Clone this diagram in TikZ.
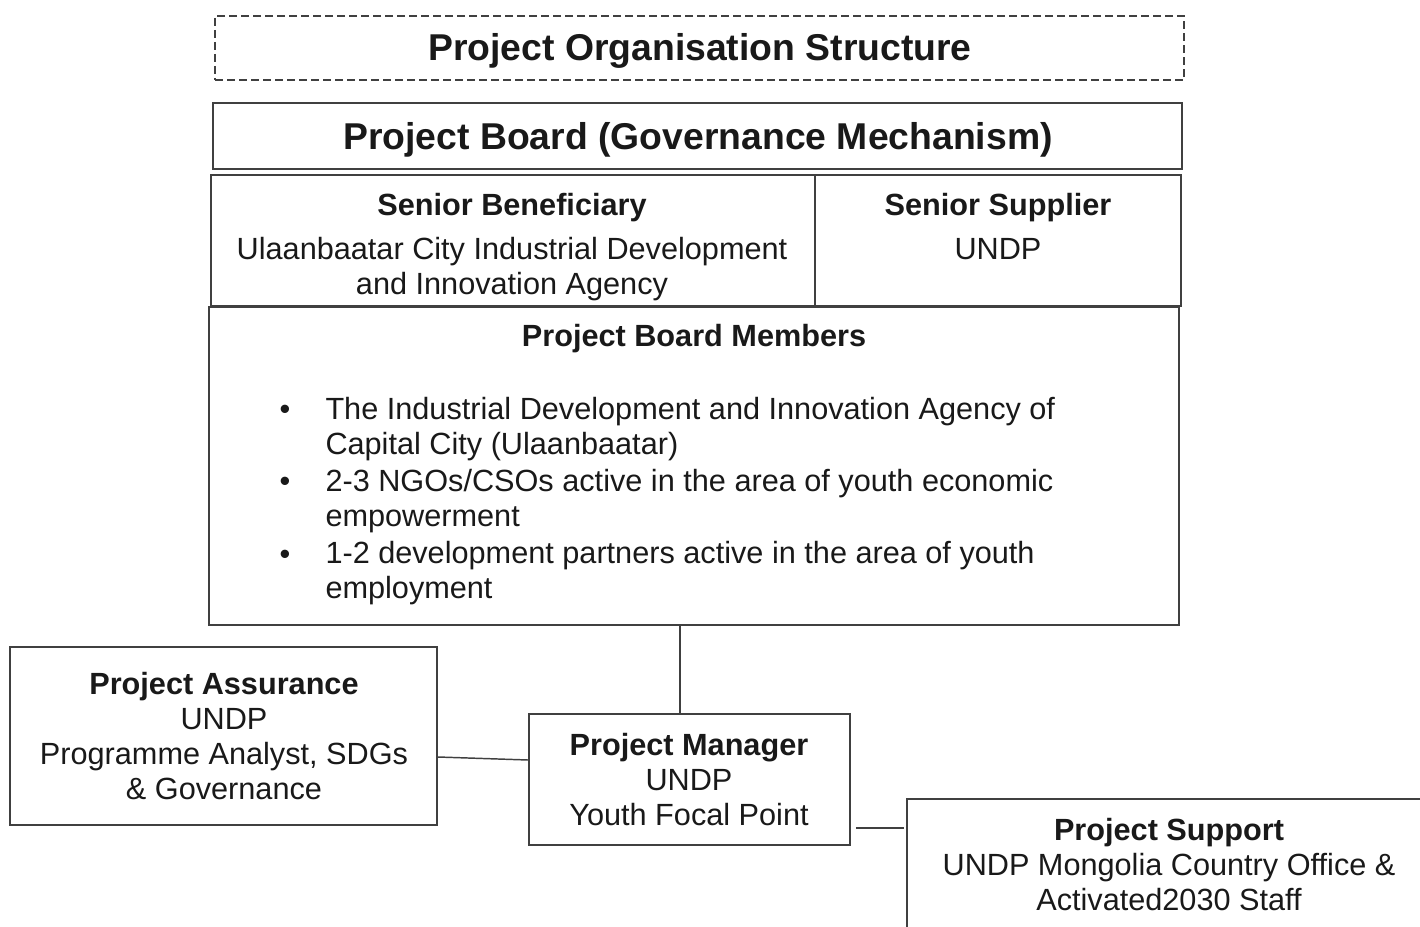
\documentclass[tikz,border=0pt]{standalone}
\usepackage{fontspec}
\setmainfont{Liberation Sans}

\tikzset{every picture/.style={line width=0.75pt}}
\tikzset{
  box/.style={draw=black!75, line width=1.4pt, inner sep=0pt},
  headbox/.style={box, dash pattern={on 6pt off 3pt}},
  big/.style={font=\fontsize{28}{32}\selectfont\bfseries, text=black!90},
  txt/.style={font=\fontsize{23}{26.25}\selectfont, text=black!90, align=center, inner sep=0pt},
  hd/.style={txt, font=\fontsize{23}{26.25}\selectfont\bfseries},
  link/.style={draw=black!75, line width=1.1pt}
}

\begin{document}
\begin{tikzpicture}[x=0.75pt,y=0.75pt,yscale=-1,xscale=1]
	\useasboundingbox (0,0) rectangle (1420,927);
	\clip (0,0) rectangle (1420,927);

	%Boxes
	\node [headbox, minimum width=726.75pt, minimum height=48pt] (head) at (699.5,48) {};
	\node [box, minimum width=726.75pt, minimum height=49.5pt] (board) at (697.5,136) {};
	\node [box, minimum width=453pt, minimum height=98.25pt] (benef) at (513,240.5) {};
	\node [box, minimum width=274.5pt, minimum height=98.25pt] (suppl) at (998,240.5) {};
	\node [box, minimum width=727.5pt, minimum height=238.5pt] (members) at (694,466) {};
	\node [box, minimum width=320.25pt, minimum height=133.5pt] (assure) at (223.5,736) {};
	\node [box, minimum width=240.75pt, minimum height=98.25pt] (mgr) at (689.5,779.5) {};
	\node [box, minimum width=393.75pt, minimum height=120.75pt] (support) at (1169.5,879.5) {};

	%Connectors
	\coordinate (drop) at (680,625);
	\draw [link] (drop) -- (drop |- mgr.north);
	\draw [link] (assure.east |- 0,757) -- (mgr.west |- 0,760);
	\draw [link, shorten <=3.75pt, shorten >=1.5pt] (mgr.east |- 0,828) -- (support.west |- 0,828);

	% Text Node (base = last line)
	\node [big, anchor=base, inner sep=0pt] (headtxt) at (700,61) {Project Organisation Structure};
	% Text Node
	\node [big, anchor=base, inner sep=0pt] (boardtxt) at (698,150) {Project Board (Governance Mechanism)};
	% Text Node
	\node [hd, anchor=base] (benefhd) at (512,216) {Senior Beneficiary};
	\node [txt, anchor=base] (beneftxt) at (512,295) {Ulaanbaatar City Industrial Development\\and Innovation Agency};
	% Text Node
	\node [hd, anchor=base] (supplhd) at (998,216) {Senior Supplier};
	\node [txt, anchor=base] (suppltxt) at (998,260) {UNDP};
	% Text Node
	\node [hd, anchor=base] (membershd) at (694,346) {Project Board Members};
	\node [txt, anchor=base] (dot1) at (285,419) {\textbullet};
	\node [txt, anchor=base west, align=left] (item1) at (325,454) {The Industrial Development and Innovation Agency of\\Capital City (Ulaanbaatar)};
	\node [txt, anchor=base] (dot2) at (285,491) {\textbullet};
	\node [txt, anchor=base west, align=left] (item2) at (325,526) {2-3 NGOs/CSOs active in the area of youth economic\\empowerment};
	\node [txt, anchor=base] (dot3) at (285,564) {\textbullet};
	\node [txt, anchor=base west, align=left] (item3) at (325,598) {1-2 development partners active in the area of youth\\employment};
	% Text Node
	\node [txt, anchor=base] (assuretxt) at (224,799) {\textbf{Project Assurance}\\UNDP\\Programme Analyst, SDGs\\\& Governance};
	% Text Node
	\node [txt, anchor=base] (mgrtxt) at (689,825) {\textbf{Project Manager}\\UNDP\\Youth Focal Point};
	% Text Node
	\node [txt, anchor=base] (supporttxt) at (1169,910) {\textbf{Project Support}\\UNDP Mongolia Country Office \&\\Activated2030 Staff};

\end{tikzpicture}
\end{document}
